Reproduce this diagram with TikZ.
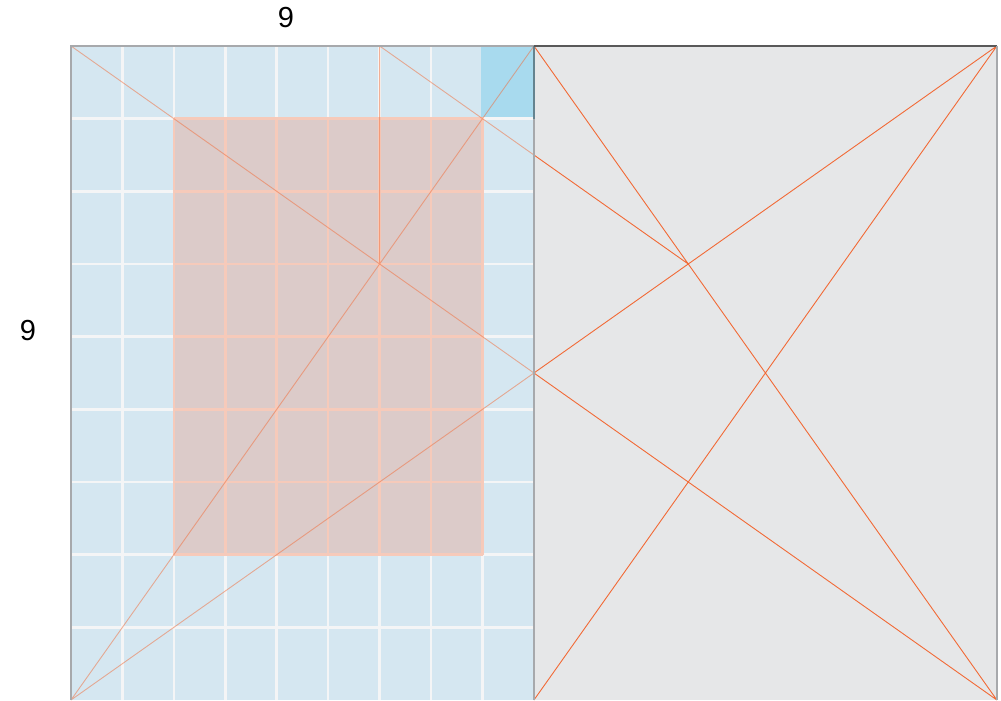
\documentclass[tikz,border=0pt]{standalone}
\usepackage{fontspec}
\setmainfont{Liberation Sans}
\definecolor{pageblue}{HTML}{D5E7F1}
\definecolor{cellblue}{HTML}{A8DAEE}
\definecolor{blockfill}{HTML}{DCCBC9}
\definecolor{blockline}{HTML}{F6CABA}
\definecolor{gridwhite}{HTML}{F4F5F6}
\definecolor{canon}{HTML}{F26A36}
\definecolor{rightpage}{HTML}{E6E7E8}
\definecolor{pageedge}{HTML}{A7A9AC}
\begin{document}
\begin{tikzpicture}[x=51.44pt,y=72.67pt,
  gridline/.style={gridwhite,line width=2.6pt},
  blockgrid/.style={blockline,line width=2.6pt},
  canonline/.style={canon,line width=0.9pt},
  countlabel/.style={font=\fontsize{29}{30}\selectfont}]
\useasboundingbox (-1.38,0) rectangle (18.08,9.633);

\coordinate (bl) at (0,0);
\coordinate (tl) at (0,9);
\coordinate (bm) at (9,0);
\coordinate (tm) at (9,9);
\coordinate (br) at (18,0);
\coordinate (tr) at (18,9);
\coordinate (top) at (6,9);
\coordinate (cross) at (6,6);
\coordinate (rcross) at (12,6);

\fill[pageblue] (bl) rectangle (tm);
\fill[rightpage] (bm) rectangle (tr);
\foreach \i in {1,...,8} {
  \draw[gridline] (\i,0) -- (\i,9);
  \draw[gridline] (0,\i) -- (9,\i);
}

\fill[blockfill] (2,2) rectangle (8,8);
\foreach \i in {2,...,8} {
  \draw[blockgrid] (\i,2) -- (\i,8);
  \draw[blockgrid] (2,\i) -- (8,\i);
}
\fill[cellblue] (7.98,8.02) rectangle (9,9);

\begin{scope}
\clip (bl) rectangle (tm);
\draw[canonline,opacity=.5] (tl) -- (br) (bl) -- (tr) (bl) -- (tm)
  (top) -- (rcross) (top) -- (cross);
\end{scope}
\begin{scope}
\clip (bm) rectangle (tr);
\draw[canonline] (tl) -- (br) (bl) -- (tr) (bm) -- (tr) (tm) -- (br)
  (top) -- (rcross);
\end{scope}

\draw[pageedge,line width=1.2pt] (bl) -- (tl) -- (tm);
\draw[pageedge,line width=2pt] (bm) -- (9,8);
\draw[cellblue!60!black,line width=2pt] (9,8) -- (tm);
\draw[black!65,line width=1.2pt] (tm) -- (tr);
\draw[pageedge,line width=2pt] (tr) -- (br);

\node[countlabel] (cols) at (4.18,9.385) {9};
\node[countlabel] (rows) at (-0.836,5.09) {9};
\end{tikzpicture}
\end{document}
